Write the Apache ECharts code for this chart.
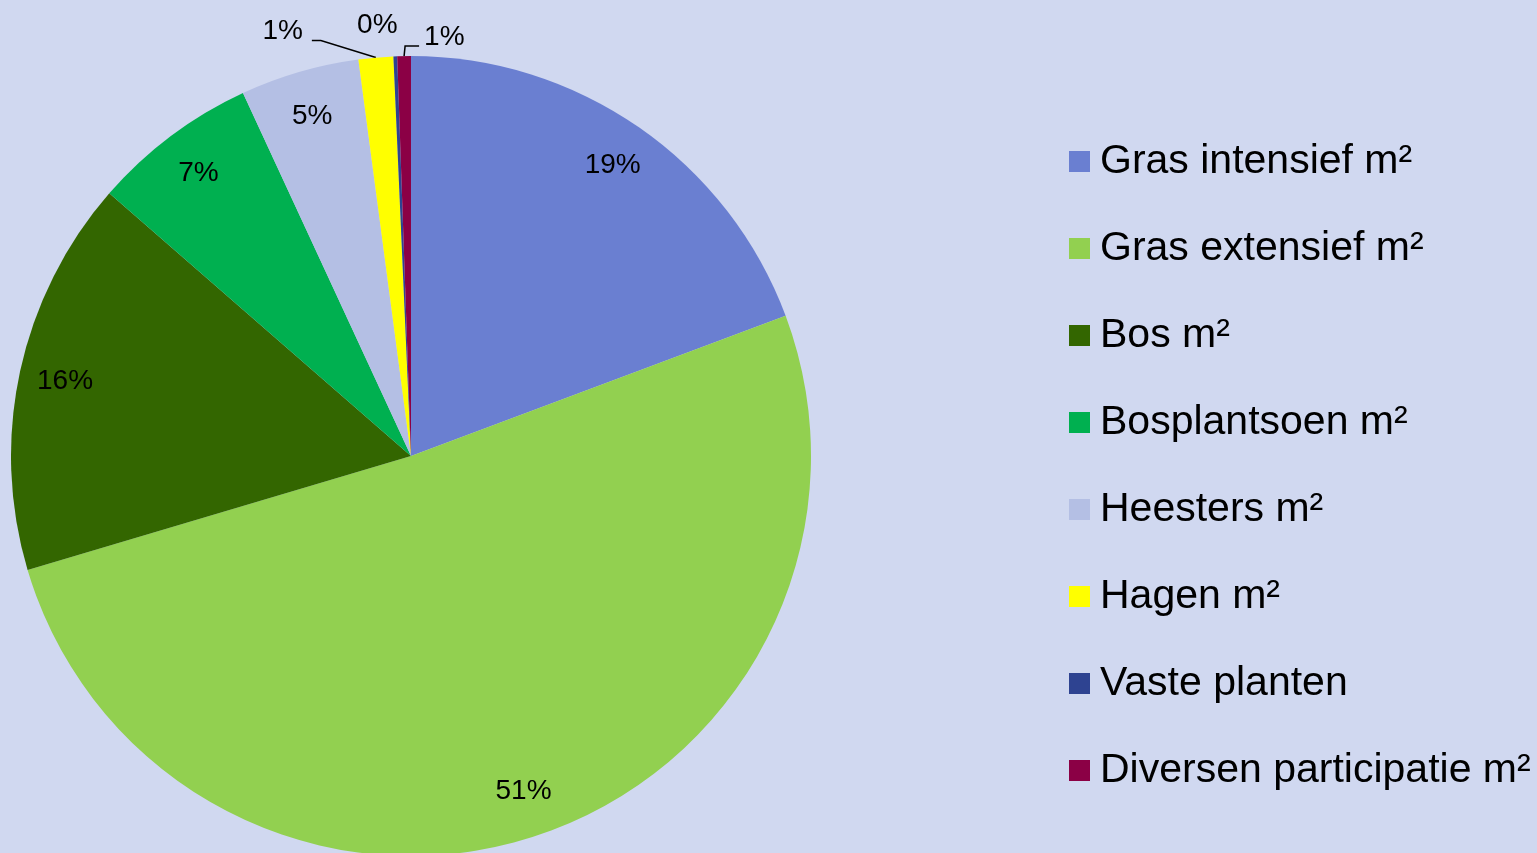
<!DOCTYPE html>
<html><head><meta charset="utf-8">
<script src="https://cdn.jsdelivr.net/npm/echarts@6/dist/echarts.min.js"></script>
<style>html,body{margin:0;padding:0;background:#D0D8F0;} #c{width:1537px;height:853px;}</style>
</head><body><div id="c"></div>
<script>
const categories = ['Gras intensief m²','Gras extensief m²','Bos m²','Bosplantsoen m²','Heesters m²','Hagen m²','Vaste planten','Diversen participatie m²'];
const values = [19.3, 51.1, 16.0, 6.7, 4.8, 1.4, 0.15, 0.55];
const colors = ['#6A7FD1','#92D050','#336600','#00B050','#B4BFE4','#FFFF00','#2E4391','#8B0045'];

// label placement style for the small slices (offsets relative to the slice's outer edge point)
const smallLabelStyle = {
  5: { line: [[-55, -17], [-64, -17]], label: [-73, -26], align: 'right' },
  6: { line: null, label: [-18, -31], align: 'center' },
  7: { line: [[1, -10], [15, -10]], label: [20, -19], align: 'left' }
};

const total = values.reduce((a, b) => a + b, 0);
const isSmall = v => v / total < 0.02;
const FONT = '"Liberation Sans", Arial, sans-serif';
const pct = p => Math.round(p.percent) + '%';

const mainData = categories.map((name, i) => ({
  name, value: values[i],
  itemStyle: { color: colors[i] },
  label: { show: isSmall(values[i]) },
  labelLine: { show: isSmall(values[i]) }
}));
const overlayData = categories.map((name, i) => ({
  name, value: values[i],
  label: { show: !isSmall(values[i]) }
}));

const chart = echarts.init(document.getElementById('c'));
chart.setOption({
  backgroundColor: '#D0D8F0',
  animation: false,
  legend: {
    orient: 'vertical',
    left: 1069, top: 141, padding: 0,
    itemWidth: 21, itemHeight: 21, itemGap: 46,
    icon: 'rect',
    data: categories,
    textStyle: { fontFamily: FONT, fontSize: 41, lineHeight: 41, color: '#000', padding: [0, 0, 0, 5] },
    selectedMode: false
  },
  series: [
    {
      type: 'pie', center: [411, 456], radius: [0, 400],
      startAngle: 90, clockwise: true,
      avoidLabelOverlap: false,
      data: mainData,
      label: { position: 'outside', formatter: pct, fontFamily: FONT, fontSize: 28, color: '#000' },
      labelLine: { length: 12, length2: 10, lineStyle: { color: '#000', width: 1.5 } },
      labelLayout: function (p) {
        const s = smallLabelStyle[p.dataIndex];
        if (!s || !p.labelLinePoints) return {};
        const a = p.labelLinePoints[0];
        const out = {
          x: a[0] + s.label[0], y: a[1] + s.label[1],
          align: s.align, verticalAlign: 'middle',
          hideOverlap: false, moveOverlap: null
        };
        if (s.line) {
          out.labelLinePoints = [[a[0], a[1]], [a[0] + s.line[0][0], a[1] + s.line[0][1]], [a[0] + s.line[1][0], a[1] + s.line[1][1]]];
        } else {
          out.labelLinePoints = [[a[0], a[1]], [a[0], a[1]], [a[0], a[1]]];
        }
        return out;
      },
      emphasis: { disabled: true }
    },
    {
      type: 'pie', center: [411, 456], radius: [0, 702],
      startAngle: 90, clockwise: true, silent: true, z: 3,
      avoidLabelOverlap: false,
      data: overlayData,
      itemStyle: { color: 'rgba(0,0,0,0)' },
      label: { position: 'inside', formatter: pct, fontFamily: FONT, fontSize: 28, color: '#000' },
      labelLine: { show: false },
      emphasis: { disabled: true }
    }
  ]
});
</script></body></html>
